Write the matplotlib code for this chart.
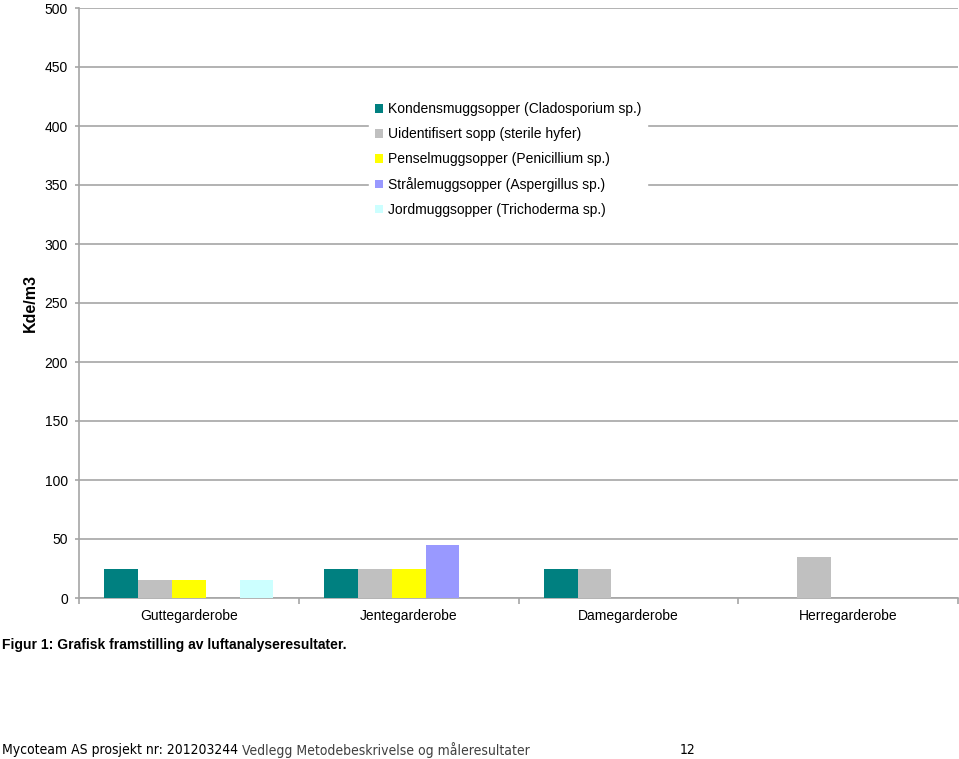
import numpy as np
import matplotlib.pyplot as plt
from matplotlib.patches import Patch

# data
rooms = ['Guttegarderobe', 'Jentegarderobe', 'Damegarderobe', 'Herregarderobe']
seriesNames = ['Kondensmuggsopper (Cladosporium sp.)',
               'Uidentifisert sopp (sterile hyfer)',
               'Penselmuggsopper (Penicillium sp.)',
               'Strålemuggsopper (Aspergillus sp.)',
               'Jordmuggsopper (Trichoderma sp.)']
kondens = [25, 25, 25, 0]
uidentifisert = [15, 25, 25, 35]
pensel = [15, 25, 0, 0]
straale = [0, 45, 0, 0]
jord = [15, 0, 0, 0]
seriesColors = ['#008080', '#C0C0C0', '#FFFF00', '#9999FF', '#CCFFFF']

plt.rcParams['font.family'] = ['Liberation Sans', 'DejaVu Sans']

fig = plt.figure(figsize=[9.59, 7.59], dpi=100)
ax = fig.add_axes([79/959, 161/759, 879/959, 590/759])

allSeries = [kondens, uidentifisert, pensel, straale, jord]
nSer = len(allSeries)
barW = 1 / (nSer + 1.5)  # excel gap width 150%
x = np.arange(len(rooms))
for i, vals in enumerate(allSeries):
    offs = (i - (nSer - 1) / 2) * barW
    ax.bar(x + offs, vals, width=barW, color=seriesColors[i], zorder=3)

ax.set_xlim(-0.5, len(rooms) - 0.5)
ax.set_ylim(0, 500)
ax.set_yticks(np.arange(0, 501, 50))
ax.yaxis.grid(True, color='#a6a6a6', linewidth=1.2, zorder=0)
for s in ['top', 'right']:
    ax.spines[s].set_visible(False)
for s in ['left', 'bottom']:
    ax.spines[s].set_color('#a6a6a6')
    ax.spines[s].set_linewidth(1.2)

# category labels + separator ticks
ax.set_xticks(x)
ax.set_xticklabels(rooms, fontsize=10)
ax.tick_params(axis='x', length=0, pad=8)
ax.set_xticks(np.arange(-0.5, len(rooms)), minor=True)
ax.tick_params(axis='x', which='minor', length=4, color='#a6a6a6', width=1.2)
ax.tick_params(axis='y', length=3, color='#a6a6a6', width=1.2, labelsize=10, pad=5)

ax.set_ylabel('Kde/m3', fontsize=11.5, fontweight='bold', labelpad=5)

handles = [Patch(facecolor=c) for c in seriesColors]
leg = ax.legend(handles, seriesNames, loc='upper left',
                bbox_to_anchor=(283/879, 508/590), fontsize=10,
                handlelength=0.6, handleheight=0.6, handletextpad=0.4,
                labelspacing=0.78, frameon=True, fancybox=False,
                edgecolor='white', facecolor='white', framealpha=1)
leg.set_zorder(5)

fig.text(2/959, 1 - 645/759, 'Figur 1: Grafisk framstilling av luftanalyseresultater.',
         fontsize=10, fontweight='bold', va='center', ha='left')

# footer line (narrow font in the original)
footFont = dict(fontsize=10, va='center', ha='left',
                family='DejaVu Sans', fontstretch='condensed')
t1 = fig.text(2/959, 1 - 750/759, 'Mycoteam AS prosjekt nr: 201203244', **footFont)
fig.canvas.draw()
bb = t1.get_window_extent()
fig.text((bb.x1 + 4) / 959, 1 - 750/759,
         'Vedlegg Metodebeskrivelse og måleresultater',
         color='#404040', **footFont)
fig.text(680/959, 1 - 750/759, '12', **footFont)

fig.savefig('out.png', dpi=100)
